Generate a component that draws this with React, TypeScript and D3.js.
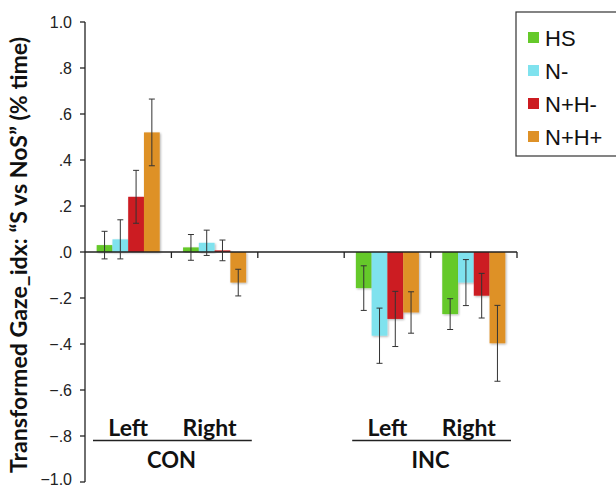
import React from 'react';
import * as d3 from 'd3';

const series = ['HS', 'N-', 'N+H-', 'N+H+'];
const colors = ['#65c92a', '#7fe2ee', '#cc1b20', '#de9127'];

// slots along the x axis (the third one is an empty spacer)
const slots = ['CON-Left', 'CON-Right', 'gap', 'INC-Left', 'INC-Right'];
const sideLabels = ['Left', 'Right'];
const groups = ['CON', 'INC'];

const conLeft = [0.03, 0.055, 0.24, 0.52];
const conLeftErr = [0.06, 0.085, 0.115, 0.145];
const conRight = [0.02, 0.04, 0.007, -0.133];
const conRightErr = [0.056, 0.055, 0.045, 0.058];
const incLeft = [-0.157, -0.364, -0.291, -0.263];
const incLeftErr = [0.097, 0.12, 0.12, 0.09];
const incRight = [-0.27, -0.133, -0.19, -0.397];
const incRightErr = [0.067, 0.1, 0.097, 0.165];

const yTicks = [1, 0.8, 0.6, 0.4, 0.2, 0, -0.2, -0.4, -0.6, -0.8, -1];

const W = 616;
const H = 487;

const App = () => {
  const y = d3.scaleLinear().domain([-1, 1]).range([482, 22]);
  const x = d3.scaleBand().domain(slots).range([85, 517]).padding(0);
  const xs = d3
    .scaleBand()
    .domain(series)
    .range([0, x.bandwidth()])
    .paddingInner(0)
    .paddingOuter(0.74);

  const bars = [
    { slot: 'CON-Left', vals: conLeft, errs: conLeftErr },
    { slot: 'CON-Right', vals: conRight, errs: conRightErr },
    { slot: 'INC-Left', vals: incLeft, errs: incLeftErr },
    { slot: 'INC-Right', vals: incRight, errs: incRightErr },
  ];

  const fmt = (v) => {
    const s = d3.format('.1f')(v);
    if (Math.abs(v) >= 1) return s;
    return s.replace('0.', '.');
  };

  const y0 = y(0);
  const labelFont = 'Lato, "Open Sans", sans-serif';

  return (
    <svg
      width={W}
      height={H}
      style={{ position: 'absolute', left: 0, top: 0, background: '#fff' }}
    >
      <defs>
        <filter id="shadow" x="-20%" y="-20%" width="140%" height="140%">
          <feDropShadow dx="1" dy="1" stdDeviation="0.8" floodColor="#000" floodOpacity="0.3" />
        </filter>
      </defs>

      {/* y axis */}
      <line x1={85} x2={85} y1={y(1)} y2={y(-1)} stroke="#222" strokeWidth={1.3} />
      {yTicks.map((t) => (
        <g key={t}>
          <line x1={80} x2={85} y1={y(t)} y2={y(t)} stroke="#222" strokeWidth={1.3} />
          <text
            x={72}
            y={t === -1 ? y(t) - 3 : y(t)}
            dy="0.36em"
            textAnchor="end"
            fontFamily='"Liberation Sans", Arial, sans-serif'
            fontSize={16}
            fill="#222"
          >
            {fmt(t)}
          </text>
        </g>
      ))}
      <text
        transform={`translate(19,${255}) rotate(-90)`}
        textAnchor="middle"
        dy="0.35em"
        fontFamily={labelFont}
        fontWeight="bold"
        fontSize={22}
        textLength={436}
        lengthAdjust="spacingAndGlyphs"
        fill="#111"
      >
        Transformed Gaze_idx: “S vs NoS” (% time)
      </text>

      {/* bars */}
      {bars.map((b) =>
        b.vals.map((v, i) => {
          const bx = x(b.slot) + xs(series[i]);
          return (
            <rect
              key={b.slot + i}
              x={bx}
              y={Math.min(y(v), y0)}
              width={xs.bandwidth()}
              height={Math.abs(y(v) - y0)}
              fill={colors[i]}
              filter="url(#shadow)"
            />
          );
        })
      )}

      {/* zero line with category ticks */}
      <line x1={85} x2={517} y1={y0} y2={y0} stroke="#222" strokeWidth={1.3} />
      {slots.map((s) => (
        <line
          key={s}
          x1={x(s) + x.bandwidth()}
          x2={x(s) + x.bandwidth()}
          y1={y0}
          y2={y0 + 6}
          stroke="#222"
          strokeWidth={1.3}
        />
      ))}

      {/* error bars */}
      {bars.map((b) =>
        b.vals.map((v, i) => {
          const cx = x(b.slot) + xs(series[i]) + xs.bandwidth() / 2;
          const top = y(v + b.errs[i]);
          const bot = y(v - b.errs[i]);
          return (
            <g key={'e' + b.slot + i} stroke="#333" strokeWidth={1}>
              <line x1={cx} x2={cx} y1={top} y2={bot} />
              <line x1={cx - 3} x2={cx + 3} y1={top} y2={top} />
              <line x1={cx - 3} x2={cx + 3} y1={bot} y2={bot} />
            </g>
          );
        })
      )}

      {/* x labels */}
      {groups.map((g, gi) => {
        const s0 = gi === 0 ? 'CON-Left' : 'INC-Left';
        const s1 = gi === 0 ? 'CON-Right' : 'INC-Right';
        const left = x(s0);
        const right = x(s1) + x.bandwidth();
        return (
          <g key={g} fontFamily={labelFont} fontWeight="bold" fill="#111">
            {sideLabels.map((l, li) => {
              const s = li === 0 ? s0 : s1;
              return (
                <text
                  key={l}
                  x={x(s) + x.bandwidth() / 2 - (li === 0 ? 0 : 5)}
                  y={436}
                  textAnchor="middle"
                  fontSize={23}
                >
                  {l}
                </text>
              );
            })}
            <line x1={left + 8} x2={right - 6} y1={440.5} y2={440.5} stroke="#222" strokeWidth={1.5} />
            <text x={(left + right) / 2} y={468} textAnchor="middle" fontSize={22}>
              {g}
            </text>
          </g>
        );
      })}

      {/* legend */}
      <rect x={516} y={12} width={120} height={144} fill="#fff" stroke="#333" strokeWidth={1.2} />
      {series.map((s, i) => (
        <g key={s}>
          <rect x={528} y={32 + i * 33} width={11} height={11} fill={colors[i]} />
          <text
            x={545}
            y={38 + i * 33}
            dy="0.36em"
            fontFamily='"Liberation Sans", Arial, sans-serif'
            fontSize={22}
            fill="#111"
          >
            {s}
          </text>
        </g>
      ))}
    </svg>
  );
};

export default App;
